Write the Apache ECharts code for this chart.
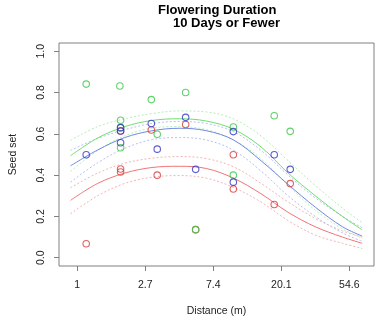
<!DOCTYPE html>
<html><head><meta charset="utf-8">
<script src="https://cdn.jsdelivr.net/npm/echarts@6/dist/echarts.min.js"></script>
<style>html,body{margin:0;padding:0;background:#fff}#c{width:389px;height:324px}</style>
</head><body><div id="c"></div>
<script>
// Observed points (distance in m, seed set)
const greenDist = [1.14, 1.87, 1.89, 1.89, 1.89, 2.97, 3.24, 4.92, 5.70, 9.92, 9.92, 18.1, 22.9];
const greenSeed = [0.841, 0.832, 0.666, 0.630, 0.533, 0.766, 0.598, 0.800, 0.136, 0.633, 0.400, 0.688, 0.612];
const blueDist = [1.14, 1.89, 1.89, 1.89, 2.97, 3.24, 4.92, 5.70, 9.92, 9.92, 18.1, 22.9];
const blueSeed = [0.499, 0.630, 0.614, 0.557, 0.650, 0.526, 0.680, 0.428, 0.611, 0.366, 0.499, 0.428];
const redDist = [1.14, 1.89, 1.89, 1.89, 2.97, 3.24, 4.92, 5.70, 9.92, 9.92, 18.1, 22.9];
const redSeed = [0.068, 0.614, 0.430, 0.415, 0.619, 0.400, 0.645, 0.136, 0.499, 0.333, 0.258, 0.359];

// Fitted curves (distance in m)
const curveDist = [0.905, 1.35, 2.01, 3.00, 4.48, 6.69, 9.97, 14.9, 22.2, 33.1, 49.4, 66.0];
const greenFit   = [0.494, 0.580, 0.635, 0.665, 0.673, 0.662, 0.622, 0.537, 0.410, 0.300, 0.200, 0.135];
const greenUpper = [0.569, 0.635, 0.673, 0.698, 0.711, 0.706, 0.672, 0.590, 0.470, 0.350, 0.240, 0.170];
const greenLower = [0.418, 0.520, 0.590, 0.628, 0.635, 0.620, 0.570, 0.480, 0.350, 0.230, 0.140, 0.095];
const blueFit    = [0.445, 0.522, 0.582, 0.615, 0.627, 0.615, 0.570, 0.470, 0.355, 0.245, 0.150, 0.105];
const blueUpper  = [0.520, 0.578, 0.620, 0.650, 0.660, 0.650, 0.610, 0.520, 0.400, 0.290, 0.200, 0.145];
const blueLower  = [0.366, 0.460, 0.530, 0.572, 0.582, 0.570, 0.520, 0.420, 0.300, 0.200, 0.120, 0.080];
const redFit     = [0.278, 0.360, 0.410, 0.437, 0.443, 0.432, 0.385, 0.310, 0.220, 0.150, 0.100, 0.070];
const redUpper   = [0.339, 0.410, 0.458, 0.482, 0.490, 0.480, 0.440, 0.360, 0.270, 0.190, 0.130, 0.100];
const redLower   = [0.213, 0.300, 0.360, 0.390, 0.398, 0.385, 0.340, 0.270, 0.180, 0.110, 0.070, 0.045];

// Axis ticks
const xTickDist = [1, 2.718, 7.389, 20.09, 54.6];
const xTickLabels = ['1', '2.7', '7.4', '20.1', '54.6'];
const yTicks = [0, 0.2, 0.4, 0.6, 0.8, 1.0];

const FONT = 'Liberation Sans, Arial, sans-serif';
const pts = (d, v) => d.map((x, i) => [Math.log(x), v[i]]);
const curve = v => curveDist.map((x, i) => [Math.log(x), v[i]]);
const lineS = (v, color, dotted) => ({
  type: 'line', data: curve(v), smooth: 0.35, showSymbol: false, silent: true,
  lineStyle: {color: color, width: 1, type: dotted ? [2, 2] : 'solid'}, z: 2
});
const scat = (d, v, color) => ({
  type: 'scatter', data: pts(d, v), symbol: 'circle', symbolSize: 6.5, z: 3,
  itemStyle: {color: 'rgba(0,0,0,0)', borderColor: color, borderWidth: 1.1}
});
const xTickVals = xTickDist.map(Math.log);

const chart = echarts.init(document.getElementById('c'));
chart.setOption({
  animation: false,
  backgroundColor: '#fff',
  title: [
    {text: 'Flowering Duration', left: 158, top: 4, padding: 0,
     textStyle: {fontFamily: FONT, fontSize: 13, fontWeight: 'bold', color: '#000'}},
    {text: '10 Days or Fewer', left: 173, top: 17, padding: 0,
     textStyle: {fontFamily: FONT, fontSize: 13, fontWeight: 'bold', color: '#000'}}
  ],
  grid: {left: 59, top: 43, width: 315, height: 223, containLabel: false, outerBoundsMode: 'none',
         show: true, borderColor: '#808080', borderWidth: 1, backgroundColor: 'transparent'},
  xAxis: {
    type: 'value', min: -0.269, max: 4.363, position: 'bottom',
    name: 'Distance (m)', nameLocation: 'middle', nameGap: 40,
    nameTextStyle: {fontFamily: FONT, fontSize: 10.5, color: '#222'},
    axisLine: {show: false, onZero: false},
    axisTick: {show: true, length: 5, lineStyle: {color: '#808080'}, customValues: xTickVals},
    axisLabel: {fontFamily: FONT, fontSize: 10.5, color: '#222', margin: 14, customValues: xTickVals,
      formatter: v => { const i = xTickVals.findIndex(t => Math.abs(t - v) < 1e-6); return i >= 0 ? xTickLabels[i] : ''; }},
    splitLine: {show: false}
  },
  yAxis: {
    type: 'value', min: -0.04, max: 1.04, position: 'left',
    name: 'Seed set', nameLocation: 'middle', nameGap: 40, nameRotate: 90,
    nameTextStyle: {fontFamily: FONT, fontSize: 10.5, color: '#222'},
    axisLine: {show: false, onZero: false},
    axisTick: {show: true, length: 5, lineStyle: {color: '#808080'}, customValues: yTicks},
    axisLabel: {fontFamily: FONT, fontSize: 10.5, color: '#222', rotate: 90, margin: 12, customValues: yTicks,
      formatter: v => v.toFixed(1)},
    splitLine: {show: false}
  },
  series: [
    lineS(greenUpper, '#b4f0b4', true), lineS(greenLower, '#b4f0b4', true),
    lineS(blueUpper, '#b8c0f2', true), lineS(blueLower, '#b8c0f2', true),
    lineS(redUpper, '#f6b4b4', true), lineS(redLower, '#f6b4b4', true),
    lineS(greenFit, '#6ee06e', false), lineS(blueFit, '#7088e4', false), lineS(redFit, '#f27474', false),
    scat(redDist, redSeed, '#d83c3c'),
    scat(greenDist, greenSeed, '#38c84a'),
    scat(blueDist, blueSeed, '#3434c4')
  ]
});
</script></body></html>
